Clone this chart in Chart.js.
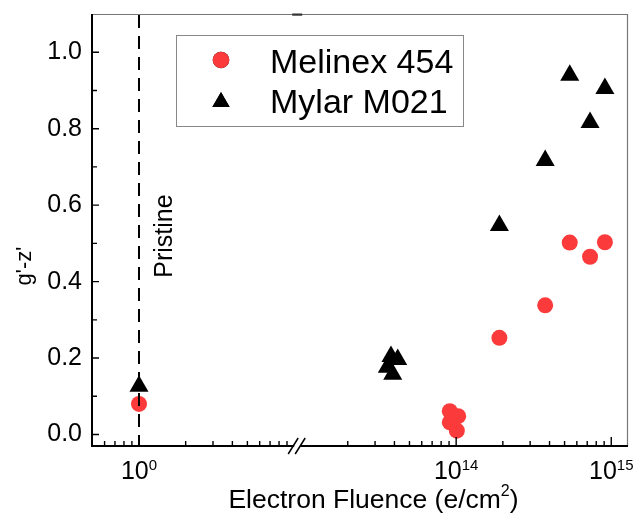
<!DOCTYPE html>
<html><head><meta charset="utf-8">
<script src="https://cdn.jsdelivr.net/npm/chart.js@4/dist/chart.umd.min.js"></script>
<style>html,body{margin:0;padding:0;background:#fff;overflow:hidden}#wrap{width:633px;height:519px;position:relative}</style>
</head><body><div id="wrap"><canvas id="c" width="633" height="519"></canvas></div>
<script>
// ---------------- data ----------------
const seriesNames = ['Melinex 454', 'Mylar M021'];
const melinexFluence = [1, 9.1e13, 1.03e14, 9.1e13, 1.01e14, 1.9e14, 3.75e14, 5.4e14, 7.3e14, 9.1e14];
const melinexGZ      = [0.080, 0.061, 0.048, 0.032, 0.010, 0.253, 0.338, 0.502, 0.465, 0.503];
const mylarFluence   = [1, 3.8e13, 4.2e13, 3.6e13, 3.9e13, 1.9e14, 3.75e14, 5.4e14, 7.3e14, 9.1e14];
const mylarGZ        = [0.126, 0.204, 0.196, 0.176, 0.158, 0.547, 0.717, 0.940, 0.816, 0.905];
const xMajorTicks = [1, 1e14, 1e15];
const xMajorExponents = ['0', '14', '15'];
const xMinorTicks = [0.5,0.6,0.7,0.8,0.9, 2,3,4,5,6,7,8,9,
  2e13,3e13,4e13,5e13,6e13,7e13,8e13,9e13, 2e14,3e14,4e14,5e14,6e14,7e14,8e14,9e14];
const yMajorTicks = [0.0, 0.2, 0.4, 0.6, 0.8, 1.0];
const yMinorTicks = [0.1, 0.3, 0.5, 0.7, 0.9];
const pristineFluence = 1;
const pristineLabel = 'Pristine';
const xTitle = ['Electron Fluence (e/cm', '2', ')'];
const yTitle = "g'-z'";

// ---------------- broken log axis ----------------
const LOW_MIN_LOG = -0.303, BREAK_LOG = 1.02, HIGH_START_LOG = 13, HIGH_START_U = 1.045, HIGH_MAX_LOG = 15.108;
function toU(v){ const L = Math.log10(v); return L <= 6 ? L : L - HIGH_START_LOG + HIGH_START_U; }
function fromU(u){ return u <= BREAK_LOG ? Math.pow(10,u) : Math.pow(10, u - HIGH_START_U + HIGH_START_LOG); }

class BrokenLogScale extends Chart.Scale {
  parse(raw){ return (raw === null || raw === undefined) ? null : +raw; }
  determineDataLimits(){ this.min = this.options.min; this.max = this.options.max; }
  buildTicks(){ return xMajorTicks.map(v => ({value: v})); }
  getLabelForValue(v){ return String(v); }
  configure(){ super.configure(); this._u0 = toU(this.min); this._ur = toU(this.max) - this._u0; }
  getPixelForValue(v){ return this.getPixelForDecimal((toU(v) - this._u0) / this._ur); }
  getValueForPixel(p){ return fromU(this._u0 + this.getDecimalForPixel(p) * this._ur); }
}
BrokenLogScale.id = 'brokenLog';
BrokenLogScale.defaults = {};
Chart.register(BrokenLogScale);

const FONT = "'Liberation Sans', Arial, sans-serif";
const RED = '#fb3b3b';

function drawSupText(ctx, parts, sizes, x, baselines, align){
  let widths = parts.map((p,i) => { ctx.font = sizes[i] + 'px ' + FONT; return ctx.measureText(p).width; });
  let total = widths.reduce((a,b)=>a+b,0);
  let cx = align === 'center' ? x - total/2 : x;
  parts.forEach((p,i) => {
    ctx.font = sizes[i] + 'px ' + FONT;
    ctx.textAlign = 'left'; ctx.textBaseline = 'alphabetic';
    ctx.fillText(p, cx, baselines[i]);
    cx += widths[i];
  });
}

const decorPlugin = {
  id: 'decor',
  afterDatasetsDraw(chart){
    const ctx = chart.ctx, xs = chart.scales.x;
    const {top, bottom} = chart.chartArea;
    ctx.save();
    ctx.strokeStyle = '#000'; ctx.lineWidth = 2; ctx.setLineDash([13, 8]);
    const px = Math.round(xs.getPixelForValue(pristineFluence));
    ctx.beginPath(); ctx.moveTo(px, top + 1); ctx.lineTo(px, bottom); ctx.stroke();
    ctx.restore();
  },
  afterDraw(chart){
    const ctx = chart.ctx, xs = chart.scales.x, ys = chart.scales.y;
    const {left, right, top, bottom} = chart.chartArea;
    ctx.save();
    ctx.strokeStyle = '#777'; ctx.lineWidth = 1.2;
    ctx.beginPath(); ctx.moveTo(left, top + 0.5); ctx.lineTo(right - 0.5, top + 0.5); ctx.lineTo(right - 0.5, bottom); ctx.stroke();
    const bx = xs.getPixelForValue(fromU(BREAK_LOG));
    ctx.fillStyle = '#333'; ctx.fillRect(bx - 5, top - 0.5, 10, 2.2);
    ctx.strokeStyle = '#000'; ctx.lineWidth = 2;
    ctx.beginPath(); ctx.moveTo(left, top); ctx.lineTo(left, bottom); ctx.lineTo(right, bottom); ctx.stroke();
    ctx.lineWidth = 1.4;
    ctx.beginPath();
    xMajorTicks.forEach(v => { const p = xs.getPixelForValue(v); ctx.moveTo(p, bottom); ctx.lineTo(p, bottom - 9); });
    xMinorTicks.forEach(v => { const p = xs.getPixelForValue(v); ctx.moveTo(p, bottom); ctx.lineTo(p, bottom - 5); });
    yMajorTicks.forEach(v => { const p = ys.getPixelForValue(v); ctx.moveTo(left, p); ctx.lineTo(left + 7, p); });
    yMinorTicks.forEach(v => { const p = ys.getPixelForValue(v); ctx.moveTo(left, p); ctx.lineTo(left + 5, p); });
    ctx.stroke();
    ctx.fillStyle = '#fff'; ctx.fillRect(bx - 3, bottom - 2, 6, 4);
    ctx.strokeStyle = '#000'; ctx.lineWidth = 1.5;
    ctx.beginPath();
    ctx.moveTo(bx - 9, bottom + 8); ctx.lineTo(bx + 1, bottom - 8);
    ctx.moveTo(bx - 2, bottom + 8); ctx.lineTo(bx + 8, bottom - 8);
    ctx.stroke();
    ctx.fillStyle = '#000';
    xMajorTicks.forEach((v, i) => {
      drawSupText(ctx, ['10', xMajorExponents[i]], [25, 15], xs.getPixelForValue(v), [479, 470], 'center');
    });
    drawSupText(ctx, xTitle, [26.5, 16, 26.5], 373.5, [508, 496, 508], 'center');
    ctx.save();
    ctx.translate(25, 266); ctx.rotate(-Math.PI/2);
    ctx.font = '22px ' + FONT; ctx.textAlign = 'center'; ctx.textBaseline = 'middle';
    ctx.fillText(yTitle, 0, 0);
    ctx.restore();
    ctx.save();
    ctx.translate(165, 236); ctx.rotate(-Math.PI/2);
    ctx.font = '25px ' + FONT; ctx.textAlign = 'center'; ctx.textBaseline = 'middle';
    ctx.fillText(pristineLabel, 0, 0);
    ctx.restore();
    // legend
    ctx.strokeStyle = '#888'; ctx.lineWidth = 1;
    ctx.strokeRect(176.5, 35.5, 287, 91);
    chart.data.datasets.forEach((ds, i) => {
      Chart.helpers.drawPoint(ctx, {pointStyle: ds.pointStyle, radius: i === 0 ? 8.3 : 10, rotation: 0, borderWidth: 0},
        221, i === 0 ? 60 : 102);
      ctx.fillStyle = ds.backgroundColor;
      ctx.fill();
      ctx.fillStyle = '#000';
      ctx.font = '34px ' + FONT; ctx.textAlign = 'left'; ctx.textBaseline = 'alphabetic';
      ctx.fillText(ds.label, 270, i === 0 ? 72.7 : 113.3);
    });
    ctx.restore();
  }
};

new Chart(document.getElementById('c'), {
  type: 'scatter',
  data: {
    datasets: [
      { label: seriesNames[0], data: melinexFluence.map((x, i) => ({x, y: melinexGZ[i]})),
        pointStyle: 'circle', pointRadius: 8, backgroundColor: RED, borderColor: RED, pointBorderWidth: 0 },
      { label: seriesNames[1], data: mylarFluence.map((x, i) => ({x, y: mylarGZ[i]})),
        pointStyle: 'triangle', pointRadius: 11, backgroundColor: '#000', borderColor: '#000', pointBorderWidth: 0 }
    ]
  },
  options: {
    responsive: false, animation: false, events: [],
    layout: { autoPadding: false, padding: { top: 14, right: 5, left: 0, bottom: 0 } },
    plugins: { legend: { display: false }, tooltip: { enabled: false } },
    scales: {
      x: { type: 'brokenLog', position: 'bottom', min: Math.pow(10, LOW_MIN_LOG), max: Math.pow(10, HIGH_MAX_LOG),
           grid: { display: false, drawTicks: false }, border: { display: false }, ticks: { display: false },
           afterFit(s){ s.height = 73; s.paddingLeft = 0; s.paddingRight = 0; s.paddingTop = 0; s.paddingBottom = 0; } },
      y: { type: 'linear', position: 'left', min: -0.03, max: 1.10,
           grid: { display: false, drawTicks: false }, border: { display: false },
           ticks: { color: '#000', padding: 10, font: { family: FONT, size: 25 }, callback: v => Number(v).toFixed(1) },
           afterBuildTicks(s){ s.ticks = yMajorTicks.map(v => ({value: v})); },
           afterFit(s){ s.width = 92; s.paddingLeft = 0; s.paddingRight = 0; s.paddingTop = 0; s.paddingBottom = 0; } }
    }
  },
  plugins: [decorPlugin]
});
</script></body></html>
